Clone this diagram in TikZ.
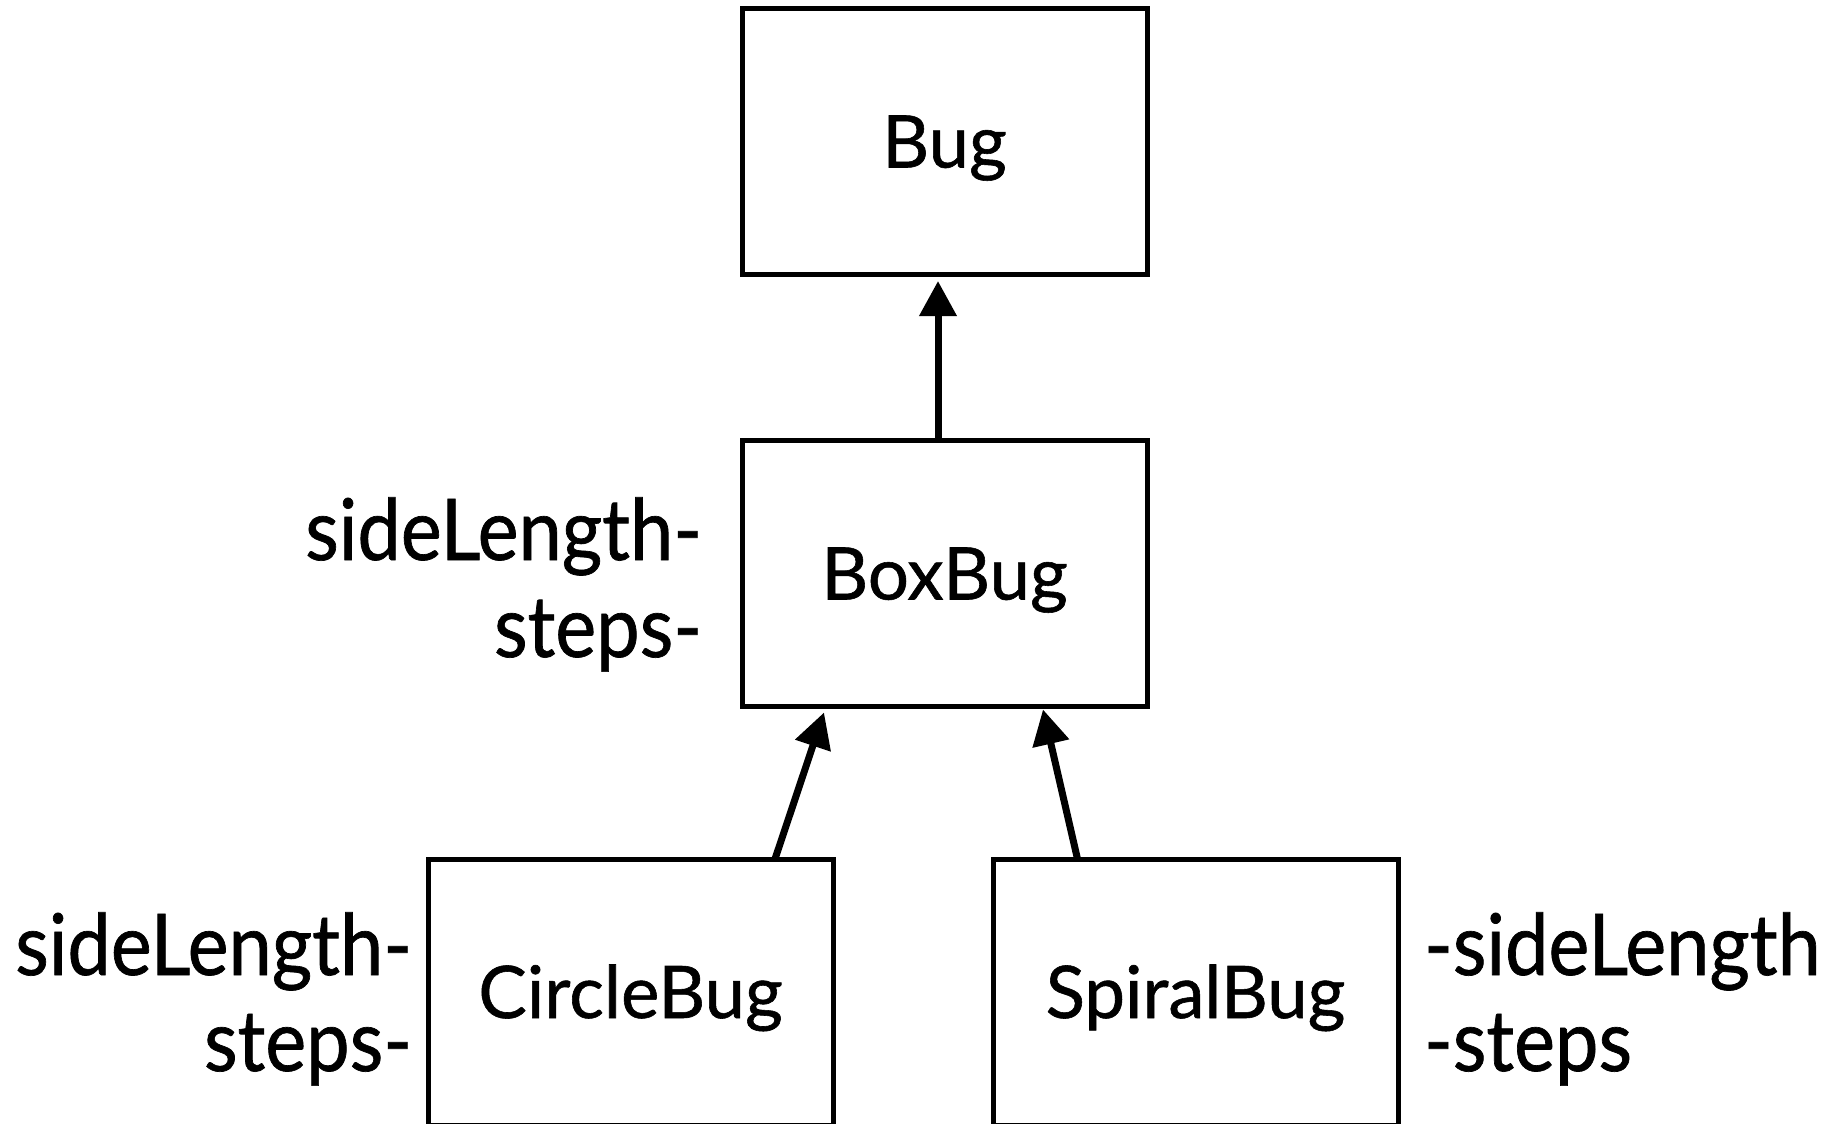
\documentclass[tikz,border=0pt]{standalone}
\usepackage{fontspec}
\setmainfont[FakeBold=0.8]{Lato}
\newfontfamily\attrfont[FakeStretch=0.91,FakeBold=0.8]{Lato}
\usetikzlibrary{arrows.meta}
\begin{document}
\begin{tikzpicture}[x=0.5pt,y=-0.5pt,
  classbox/.style={draw=black, line width=2.5pt, fill=white,
    minimum width=202.5pt, minimum height=133pt, inner sep=0pt, outer sep=0pt,
    font=\fontsize{36.3}{40}\selectfont, text height=26pt, text depth=0pt},
  attrtext/.style={font=\attrfont\fontsize{42.6}{46}\selectfont, inner sep=0pt, outer sep=0pt},
  inh/.style={line width=3.5pt, -{Triangle[length=17.5pt,width=18pt]}}]
\useasboundingbox (0,0) rectangle (1832,1124);
\clip (0,0) rectangle (1832,1124);
\node[classbox] (bug) at (944.5,141.5) {Bug};
\node[classbox] (boxbug) at (944.5,573.5) {BoxBug};
\node[classbox] (circlebug) at (630.5,992) {CircleBug};
\node[classbox] (spiralbug) at (1195.5,992) {SpiralBug};
\node[attrtext, anchor=base east] (bbside) at (702,560) {sideLength-};
\node[attrtext, anchor=base east] (bbsteps) at (702,657) {steps-};
\node[attrtext, anchor=base east] (cbside) at (412,975) {sideLength-};
\node[attrtext, anchor=base east] (cbsteps) at (412,1071) {steps-};
\node[attrtext, anchor=base west] (sbside) at (1424,975) {-sideLength};
\node[attrtext, anchor=base west] (sbsteps) at (1424,1071) {-steps};
\draw[inh] ([xshift=-3.25pt]boxbug.north) -- ([xshift=-3.25pt,yshift=-3.25pt]bug.south);
\draw[inh] ([xshift=72.25pt]circlebug.north) -- ([xshift=-60.25pt,yshift=-3pt]boxbug.south);
\draw[inh] ([xshift=-59pt]spiralbug.north) -- ([xshift=49.25pt,yshift=-1.5pt]boxbug.south);
\end{tikzpicture}
\end{document}
